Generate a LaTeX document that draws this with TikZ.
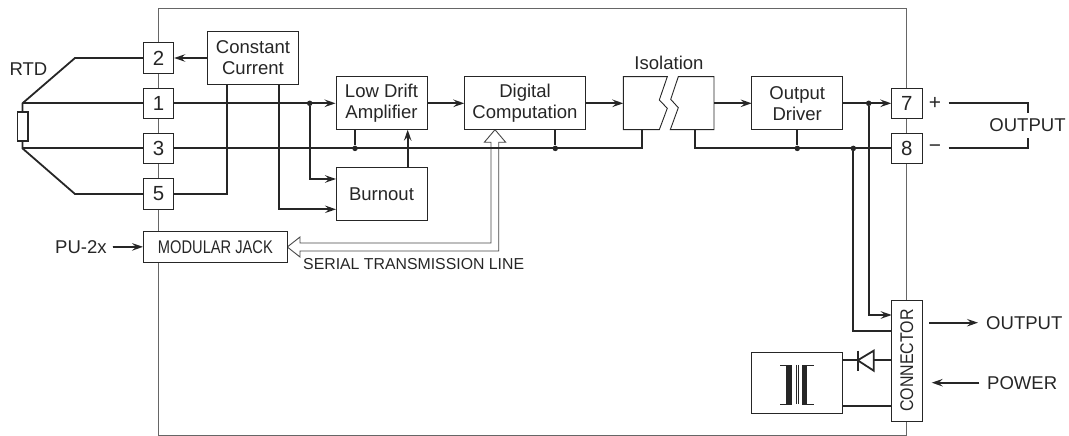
\documentclass[tikz,border=0pt]{standalone}
\usepackage{fontspec}
\setmainfont{Liberation Sans}
\usetikzlibrary{arrows.meta}
\definecolor{ink}{gray}{0.15}
\definecolor{frameink}{gray}{0.4}
\tikzset{
  x=1bp,y=-1bp,
  box/.style={draw=ink,line width=0.9bp,fill=white,inner sep=0pt,align=center,font=\fontsize{18.6}{21}\selectfont,text=ink},
  pin/.style={box,minimum width=30.5bp,minimum height=30.5bp,font=\fontsize{20.5}{23}\selectfont},
  lab/.style={inner sep=0pt,text=ink,font=\fontsize{18.6}{21}\selectfont},
  wire/.style={draw=ink,line width=1.8bp},
  sig/.style={wire,-{Stealth[length=11bp,width=7.5bp,inset=4bp]}},
  dot/.style={circle,fill=ink,inner sep=0pt,minimum size=5.5bp},
}
\newcommand{\sizedbox}[7]{% name, x0, y0, x1, y1, text, opts
  \pgfmathsetmacro{\bw}{#4-#2}\pgfmathsetmacro{\bh}{#5-#3}
  \node[box,minimum width=\bw bp,minimum height=\bh bp,#7] (#1) at ({(#2+#4)/2},{(#3+#5)/2}) {#6};}
\begin{document}
\begin{tikzpicture}
\useasboundingbox (0,0) rectangle (1069,436);
% frame
\draw[frameink,line width=0.9bp] (158.5,8.5) rectangle (906.7,435);
% coordinates
\coordinate (top) at (22.5,103.3);
\coordinate (bot) at (22.5,148.4);
% serial line
\draw[draw=ink!85!white,line width=0.9bp,fill=white] (287.3,247) -- (300,237) -- (300,243) -- (491,243) -- (491,142.3) -- (484.3,142.3) -- (495,129.7) -- (505.7,142.3) -- (498.7,142.3) -- (498.7,251) -- (300,251) -- (300,257) -- cycle;
% boxes
\node[pin] (p2) at (158.5,58) {2};
\node[pin] (p1) at (158.5,103.3) {1};
\node[pin] (p3) at (158.5,148.4) {3};
\node[pin] (p5) at (158.5,194) {5};
\node[pin] (p7) at (906.7,103.3) {7};
\node[pin] (p8) at (906.7,148.4) {8};
\sizedbox{jack}{143.5}{231.7}{287.3}{262}{\scalebox{0.8}[1]{\fontsize{18.4}{20}\selectfont MODULAR JACK}}{}
\sizedbox{cc}{207.5}{31.7}{298.5}{84.3}{Constant\\Current}{}
\sizedbox{lda}{336}{76.7}{427}{129.7}{Low Drift\\Amplifier}{}
\sizedbox{burn}{336}{167.3}{427}{220.3}{Burnout}{}
\sizedbox{dig}{464.3}{76.7}{585.7}{129.7}{Digital\\Computation}{}
\sizedbox{drv}{751.7}{76.7}{842.7}{129.7}{Output\\Driver}{}
\sizedbox{conn}{891.7}{300}{922}{421}{\rotatebox{90}{\scalebox{0.87}[1]{\fontsize{18.4}{20}\selectfont CONNECTOR}}}{}
\sizedbox{tr}{751.7}{352.7}{842.7}{413.7}{}{}
\sizedbox{res}{17.4}{111.7}{27.6}{141}{}{line width=1.8bp}
% isolation
\draw[box] (667.3,76.7) -- (659.3,100) -- (667.3,108.3) -- (659.3,129.7) -- (623.3,129.7) -- (623.3,76.7) -- cycle;
\draw[box] (678.3,76.7) -- (670.7,99.3) -- (678.3,107.7) -- (670.3,129.7) -- (714,129.7) -- (714,76.7) -- cycle;
\coordinate (isoL) at (623.3,103.3);
\coordinate (isoR) at (714,103.3);
\coordinate (isoLb) at (642,129.7);
\coordinate (isoRb) at (695,129.7);
% RTD
\draw[wire] (res.north) -- (top) -- (75,58) -- (p2.west);
\draw[wire] (top) -- (p1.west);
\draw[wire] (res.south) -- (bot) -- (75,194) -- (p5.west);
\draw[wire] (bot) -- (p3.west);
% centre lines
\node[dot] (d1) at (309.7,103.3) {};
\node[dot] (d2) at (355,148.4) {};
\node[dot] (d3) at (555.3,148.4) {};
\node[dot] (d4) at (797.3,148.4) {};
\node[dot] (d5) at (853.3,148.4) {};
\node[dot] (d6) at (868.7,103.3) {};
\draw[wire] (p3.east) -- (642,148.4) -- (isoLb);
\draw[wire] (isoRb) -- (695,148.4) -- (p8.west);
\draw[sig] (p1.east) -- (lda.west |- p1.east);
\draw[sig] (cc.west |- p2.east) -- (p2.east);
\draw[wire] (p5.east) -- (226.7,194) -- (226.7,84.3);
\draw[sig] (279,84.3) -- (279,209.3) -- (336,209.3);
\draw[sig] (d1) -- (309.7,179) -- (336,179);
\draw[wire] (355,129.7) -- (d2);
\draw[sig] (407.7,167.3) -- (407.7,129.7);
\draw[sig] (427,103.3) -- (464.3,103.3);
\draw[sig] (585.7,103.3) -- (isoL);
\draw[sig] (isoR) -- (751.7,103.3);
\draw[sig] (842.7,103.3) -- (891.3,103.3);
\draw[wire] (555.3,129.7) -- (d3);
\draw[wire] (797.3,129.7) -- (d4);
\draw[wire] (d5) -- (853.3,330.7) -- (891.7,330.7);
\draw[sig] (d6) -- (868.7,315) -- (891.7,315);
\node[lab,anchor=west,font=\fontsize{15.9}{18}\selectfont] (slab) at (303,264) {SERIAL TRANSMISSION LINE};
% outside labels
\node[lab] (rtd) at (28.5,69) {RTD};
\node[lab] (iso) at (669,62.5) {Isolation};
\node[lab,anchor=west] (pu) at (55,247) {PU-2x};
\coordinate (pu1) at (113,247);
\draw[sig] (pu1) -- (jack.west);
\node[lab,font=\fontsize{21}{23}\selectfont] (plus) at (935,103.3) {+};
\node[lab,font=\fontsize{21}{23}\selectfont] (minus) at (935,148.4) {−};
\node[lab] (out1) at (1027.5,125.5) {OUTPUT};
\draw[wire] (948.5,103.3) -- (1028,103.3) -- (1028,113);
\draw[wire] (948.5,148.4) -- (1028,148.4) -- (1028,138);
\coordinate (oa) at (929.3,322.7);
\coordinate (ob) at (978,322.7);
\draw[sig] (oa) -- (ob);
\node[lab,anchor=west] (out2) at (986,322.7) {OUTPUT};
\coordinate (pa) at (979.3,382.7);
\coordinate (pb) at (931.7,382.7);
\draw[sig] (pa) -- (pb);
\node[lab,anchor=west] (pow) at (987,382.7) {POWER};
% diode
\draw[wire] (842.7,360.3) -- (891.7,360.3);
\draw[wire] (842.7,406) -- (891.7,406);
\draw[wire,fill=white] (857.7,360.3) -- (873.7,350.7) -- (873.7,370.7) -- cycle;
\draw[wire] (857.7,350.7) -- (857.7,370.7);
% transformer
\fill[ink] (786.3,365) rectangle (792.3,404);
\fill[ink] (802.3,365) rectangle (807.3,404);
\draw[ink,line width=0.7bp] (780.3,365) -- (792.3,365) (780.3,404) -- (792.3,404);
\draw[ink,line width=0.7bp] (802.3,365) -- (814,365) (802.3,404) -- (814,404);
\draw[ink,line width=0.6bp] (796.5,365) -- (796.5,404) (798.5,365) -- (798.5,404);
\end{tikzpicture}
\end{document}
